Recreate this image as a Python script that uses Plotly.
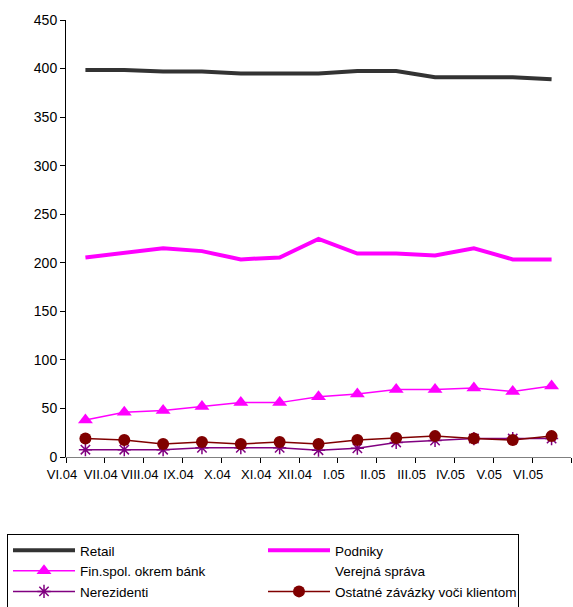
import plotly.graph_objects as go

months = ["VI.04", "VII.04", "VIII.04", "IX.04", "X.04", "XI.04", "XII.04",
          "I.05", "II.05", "III.05", "IV.05", "V.05", "VI.05"]
retail = [398.5, 398.5, 397, 397, 395, 395, 395, 397.5, 397.5, 391, 391, 391, 389]
podniky = [205.5, 210, 215, 212, 203.5, 205.5, 224.5, 209.5, 209.5, 207.5, 215, 203.5, 203.5]
fin_spol = [38, 46, 48, 52, 56, 56, 62, 65, 69.5, 69.5, 71, 67.5, 73]
verejna = [None] * 13
nerezidenti = [7.5, 7.5, 7.5, 9.5, 9.5, 9.5, 7, 9, 15, 17, 19, 19, 19]
ostatne = [19, 17.5, 13.5, 15.5, 13.5, 15.5, 13.5, 17.5, 19.5, 21.5, 19, 17.5, 21.5]
y_ticks = [0, 50, 100, 150, 200, 250, 300, 350, 400, 450]

x = list(range(len(months)))

fig = go.Figure()
fig.add_trace(go.Scatter(x=x, y=retail, name="Retail", mode="lines",
                         line=dict(color="#333333", width=4)))
fig.add_trace(go.Scatter(x=x, y=podniky, name="Podniky", mode="lines",
                         line=dict(color="#FF00FF", width=4)))
fig.add_trace(go.Scatter(x=x, y=fin_spol, name="Fin.spol. okrem bánk", mode="lines+markers",
                         line=dict(color="#FF00FF", width=1.5),
                         marker=dict(symbol="triangle-up", size=13, color="#FF00FF")))
fig.add_trace(go.Scatter(x=x, y=verejna, name="Verejná správa", mode="lines",
                         line=dict(color="rgba(0,0,0,0)", width=1)))
fig.add_trace(go.Scatter(x=x, y=nerezidenti, name="Nerezidenti", mode="lines+markers",
                         line=dict(color="#800080", width=1.5),
                         marker=dict(symbol="asterisk-open", size=11, color="#800080",
                                     line=dict(color="#800080", width=1.5))))
fig.add_trace(go.Scatter(x=x, y=ostatne, name="Ostatné závázky voči klientom", mode="lines+markers",
                         line=dict(color="#800000", width=1.5),
                         marker=dict(symbol="circle", size=12, color="#800000")))

tickvals = [i - 0.5 for i in range(len(months) + 1)]
ticktext = months + [""]

fig.update_layout(
    template="none",
    width=573, height=607,
    margin=dict(l=66, r=2, t=20, b=150, autoexpand=False),
    paper_bgcolor="white", plot_bgcolor="white",
    font=dict(family="Liberation Sans, Arial, sans-serif", size=13, color="black"),
    showlegend=True,
    legend=dict(
        orientation="h",
        x=(7 - 66) / 505, y=(457 - 534) / 437, xanchor="left", yanchor="top",
        bordercolor="black", borderwidth=1,
        entrywidth=178, entrywidthmode="pixels",
        itemwidth=62,
        font=dict(size=13.5),
        tracegroupgap=0,
    ),
    xaxis=dict(
        automargin=False,
        range=[-0.5, 12.5],
        tickmode="array", tickvals=tickvals, ticktext=ticktext,
        ticks="outside", ticklen=5, tickcolor="black",
        showline=True, linecolor="#808080", linewidth=1,
        showgrid=False, zeroline=False,
        ticklabelshift=-4, ticklabelstandoff=0,
        tickfont=dict(size=13),
    ),
    yaxis=dict(
        automargin=False,
        range=[0, 450],
        tickmode="array", tickvals=y_ticks,
        ticks="outside", ticklen=5, tickcolor="black",
        showline=True, linecolor="black", linewidth=1,
        showgrid=False, zeroline=False,
        tickfont=dict(size=14),
    ),
)

fig.write_html("out.html", config={"displayModeBar": False},
               post_script="document.body.style.margin='0';")
